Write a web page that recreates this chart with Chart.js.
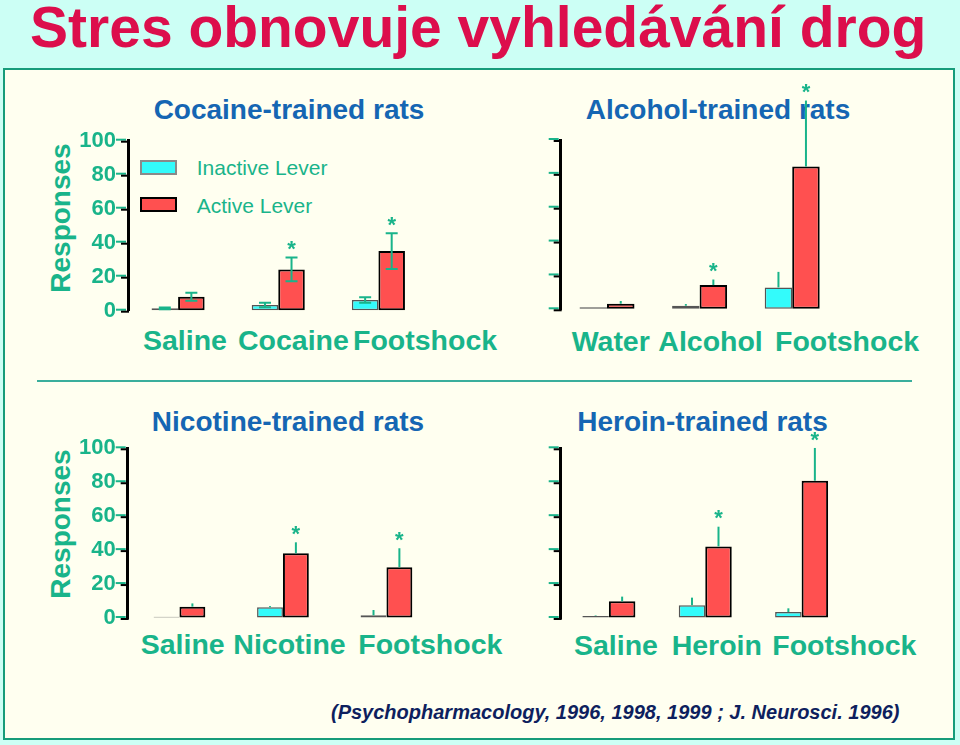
<!DOCTYPE html>
<html>
<head>
<meta charset="utf-8">
<script src="https://cdn.jsdelivr.net/npm/chart.js@4.4.0/dist/chart.umd.min.js"></script>
<style>
  html,body{margin:0;padding:0;}
  body{width:960px;height:745px;background:#ccfff5;position:relative;overflow:hidden;font-family:"Liberation Sans",Arial,sans-serif;}
  #frame{position:absolute;left:3px;top:68px;width:948px;height:668px;border:2px solid #169c7a;background:#fffff0;}
  .t{position:absolute;white-space:nowrap;line-height:1;}
  #sep{position:absolute;left:37px;top:380px;width:875px;height:0;border-top:2px solid #3aae9c;}
  .box{position:absolute;width:33px;height:11px;}
  canvas{position:absolute;}
</style>
</head>
<body>
<div id="frame"></div>
<div id="sep"></div>
<div id="texts"></div>
<div id="charts"></div>
<script>
// ---------------- DATA ----------------
const pageTitle = 'Stres obnovuje vyhledávání drog';
const footnote = '(Psychopharmacology, 1996, 1998, 1999 ; J. Neurosci. 1996)';
const yAxisTitle = 'Responses';
const seriesNames = ['Inactive Lever', 'Active Lever'];
const yTicks = [0, 20, 40, 60, 80, 100];
const panelTitles = ['Cocaine-trained rats', 'Alcohol-trained rats', 'Nicotine-trained rats', 'Heroin-trained rats'];

const cocaineCats = ['Saline', 'Cocaine', 'Footshock'];
const cocaineInactive = [1.4, 3.4, 6.3];
const cocaineInactiveErr = [0.5, 1.3, 1.6];
const cocaineActive = [8.2, 24.3, 35.1];
const cocaineActiveErr = [2.4, 7.0, 10.5];
const cocaineSig = [false, true, true];

const alcoholCats = ['Water', 'Alcohol', 'Footshock'];
const alcoholInactive = [1.2, 2.1, 12.9];
const alcoholInactiveErr = [0, 1.0, 9.2];
const alcoholActive = [3.3, 14.3, 84.3];
const alcoholActiveErr = [1.6, 3.3, 39.0];
const alcoholSig = [false, true, true];

const nicotineCats = ['Saline', 'Nicotine', 'Footshock'];
const nicotineInactive = [0.8, 6.3, 1.6];
const nicotineInactiveErr = [0, 0.7, 3.1];
const nicotineActive = [6.7, 38.1, 29.9];
const nicotineActiveErr = [1.9, 6.5, 11.2];
const nicotineSig = [false, true, true];

const heroinCats = ['Saline', 'Heroin', 'Footshock'];
const heroinInactive = [1.2, 7.5, 3.5];
const heroinInactiveErr = [0.3, 4.5, 2.2];
const heroinActive = [9.8, 42.2, 80.9];
const heroinActiveErr = [2.8, 11.6, 19.3];
const heroinSig = [false, true, true];

// ---------------- STYLE / LAYOUT ----------------
const TEAL = '#19b48a';
const BLUE = '#1566b3';
const CYAN = '#33fbfb';
const RED = '#ff5050';
const FONT = '"Liberation Sans", Arial, sans-serif';

const panels = [
  {title: panelTitles[0], cats: cocaineCats, inactive: cocaineInactive, inErr: cocaineInactiveErr, active: cocaineActive, acErr: cocaineActiveErr, sig: cocaineSig,
   canvas: {left: 0, top: 70, w: 520, h: 300}, pad: {top: 70.7, bottom: 59.3, right: 91.5}, axisW: 128, catPct: 0.53, showLabels: true, twoSided: true, cap: 12,
   titleX: 289, titleBase: 120, labelX: [143, 238, 353], labelBase: 350, respY: 217.5},
  {title: panelTitles[1], cats: alcoholCats, inactive: alcoholInactive, inErr: alcoholInactiveErr, active: alcoholActive, acErr: alcoholActiveErr, sig: alcoholSig,
   canvas: {left: 480, top: 70, w: 480, h: 300}, pad: {top: 70, bottom: 60.7, right: 121.5}, axisW: 80.7, catPct: 0.594, showLabels: false, twoSided: false, cap: 0,
   titleX: 718, titleBase: 120, labelX: [571.7, 658.3, 775], labelBase: 351.5},
  {title: panelTitles[2], cats: nicotineCats, inactive: nicotineInactive, inErr: nicotineInactiveErr, active: nicotineActive, acErr: nicotineActiveErr, sig: nicotineSig,
   canvas: {left: 0, top: 380, w: 520, h: 300}, pad: {top: 68.3, bottom: 62, right: 81.8}, axisW: 127.7, catPct: 0.5, showLabels: true, twoSided: false, cap: 0,
   titleX: 288, titleBase: 431.5, labelX: [140.7, 233.3, 358.3], labelBase: 654, respY: 524},
  {title: panelTitles[3], cats: heroinCats, inactive: heroinInactive, inErr: heroinInactiveErr, active: heroinActive, acErr: heroinActiveErr, sig: heroinSig,
   canvas: {left: 480, top: 380, w: 480, h: 300}, pad: {top: 68.3, bottom: 62, right: 110.2}, axisW: 80.7, catPct: 0.55, showLabels: false, twoSided: false, cap: 0,
   titleX: 702.5, titleBase: 431.5, labelX: [574, 671.7, 772.3], labelBase: 655}
];

// ---------------- TEXT ----------------
const texts = document.getElementById('texts');
function addText(str, opts) {
  const d = document.createElement('div');
  d.className = 't';
  d.textContent = str;
  const fs = opts.size;
  d.style.fontSize = fs + 'px';
  d.style.fontWeight = opts.weight || 'bold';
  if (opts.italic) d.style.fontStyle = 'italic';
  d.style.color = opts.color;
  d.style.top = (opts.base - 0.847 * fs) + 'px';
  d.style.left = opts.x + 'px';
  if (opts.center) d.style.transform = 'translateX(-50%)';
  texts.appendChild(d);
  return d;
}
addText(pageTitle, {size: 57, color: '#dc0e4c', base: 47.5, x: 30});
addText(footnote, {size: 20, italic: true, color: '#0e1f5e', base: 719, x: 331});

panels.forEach(p => {
  addText(p.title, {size: 28, color: BLUE, base: p.titleBase, x: p.titleX, center: true});
  p.cats.forEach((c, i) => addText(c, {size: 28.5, color: TEAL, base: p.labelBase, x: p.labelX[i]}));
  if (p.respY) {
    const d = document.createElement('div');
    d.className = 't';
    d.textContent = yAxisTitle;
    d.style.fontSize = '28px';
    d.style.fontWeight = 'bold';
    d.style.color = TEAL;
    d.style.left = '61px';
    d.style.top = p.respY + 'px';
    d.style.transform = 'translate(-50%,-50%) rotate(-90deg)';
    texts.appendChild(d);
  }
});

// legend (panel 1)
const legendColors = [{fill: CYAN, border: '#8a8a8a'}, {fill: RED, border: '#000'}];
seriesNames.forEach((n, i) => {
  const b = document.createElement('div');
  b.className = 'box';
  b.style.left = '140px';
  b.style.top = (160 + i * 37) + 'px';
  b.style.background = legendColors[i].fill;
  b.style.border = '2px solid ' + legendColors[i].border;
  texts.appendChild(b);
  addText(n, {size: 21, weight: 'normal', color: TEAL, base: 174.8 + i * 38.4, x: 196.7});
});

// ---------------- PLUGINS ----------------
const errPlugin = {
  id: 'errBars',
  afterDatasetsDraw(chart, args, opts) {
    const ctx = chart.ctx, ys = chart.scales.y;
    ctx.save();
    ctx.strokeStyle = TEAL;
    ctx.fillStyle = TEAL;
    ctx.lineWidth = 2;
    chart.data.datasets.forEach((ds, i) => {
      const meta = chart.getDatasetMeta(i);
      meta.data.forEach((bar, j) => {
        const v = ds.data[j], e = ds.errors[j];
        const yt = ys.getPixelForValue(v + e);
        const yb = opts.twoSided ? ys.getPixelForValue(v - e) : bar.y;
        if (e > 0) {
          ctx.beginPath();
          ctx.moveTo(bar.x, yt); ctx.lineTo(bar.x, yb);
          if (opts.cap) {
            ctx.moveTo(bar.x - opts.cap / 2, yt); ctx.lineTo(bar.x + opts.cap / 2, yt);
            if (opts.twoSided) { ctx.moveTo(bar.x - opts.cap / 2, yb); ctx.lineTo(bar.x + opts.cap / 2, yb); }
          }
          ctx.stroke();
        }
        if (ds.sig && ds.sig[j]) {
          ctx.font = 'bold 22px ' + FONT;
          ctx.textAlign = 'center';
          ctx.textBaseline = 'alphabetic';
          ctx.fillText('*', bar.x, yt - 14 + 12.6);
        }
      });
    });
    ctx.restore();
  }
};

const axisPlugin = {
  id: 'axisTicks',
  afterDraw(chart) {
    const ctx = chart.ctx, ys = chart.scales.y, x = chart.chartArea.left;
    ctx.save();
    ctx.lineWidth = 2;
    ys.ticks.forEach(t => {
      const y = ys.getPixelForValue(t.value);
      ctx.strokeStyle = TEAL;
      ctx.beginPath(); ctx.moveTo(x - 12, y - 1); ctx.lineTo(x - 2, y - 1); ctx.stroke();
      ctx.strokeStyle = '#000';
      ctx.beginPath(); ctx.moveTo(x - 7, y + 1); ctx.lineTo(x + 1, y + 1); ctx.stroke();
    });
    ctx.restore();
  }
};

// ---------------- CHARTS ----------------
const chartsDiv = document.getElementById('charts');
panels.forEach(p => {
  const cv = document.createElement('canvas');
  cv.width = p.canvas.w; cv.height = p.canvas.h;
  cv.style.left = p.canvas.left + 'px';
  cv.style.top = p.canvas.top + 'px';
  cv.style.width = p.canvas.w + 'px';
  cv.style.height = p.canvas.h + 'px';
  chartsDiv.appendChild(cv);
  new Chart(cv.getContext('2d'), {
    type: 'bar',
    data: {
      labels: p.cats,
      datasets: [
        {label: seriesNames[0], data: p.inactive, errors: p.inErr, sig: null,
         backgroundColor: CYAN, borderColor: '#555', borderWidth: 1.5, borderSkipped: false,
         categoryPercentage: p.catPct, barPercentage: 1},
        {label: seriesNames[1], data: p.active, errors: p.acErr, sig: p.sig,
         backgroundColor: RED, borderColor: '#000', borderWidth: 2, borderSkipped: false,
         categoryPercentage: p.catPct, barPercentage: 1}
      ]
    },
    options: {
      responsive: false,
      animation: false,
      devicePixelRatio: 1,
      layout: {padding: {left: 0, top: p.pad.top, right: p.pad.right, bottom: p.pad.bottom}},
      plugins: {
        legend: {display: false},
        tooltip: {enabled: false},
        title: {display: false},
        errBars: {twoSided: p.twoSided, cap: p.cap}
      },
      scales: {
        x: {display: false, offset: true},
        y: {
          min: 0, max: 100,
          afterBuildTicks: s => { s.ticks = yTicks.map(v => ({value: v})); },
          afterFit: s => { s.width = p.axisW; },
          grid: {display: true, drawOnChartArea: false, drawTicks: true, tickLength: 10, color: 'rgba(0,0,0,0)'},
          border: {display: true, color: '#000', width: 3},
          ticks: {display: p.showLabels, padding: 2, color: TEAL, font: {family: FONT, size: 22, weight: 'bold'}}
        }
      }
    },
    plugins: [errPlugin, axisPlugin]
  });
});
</script>
</body>
</html>
